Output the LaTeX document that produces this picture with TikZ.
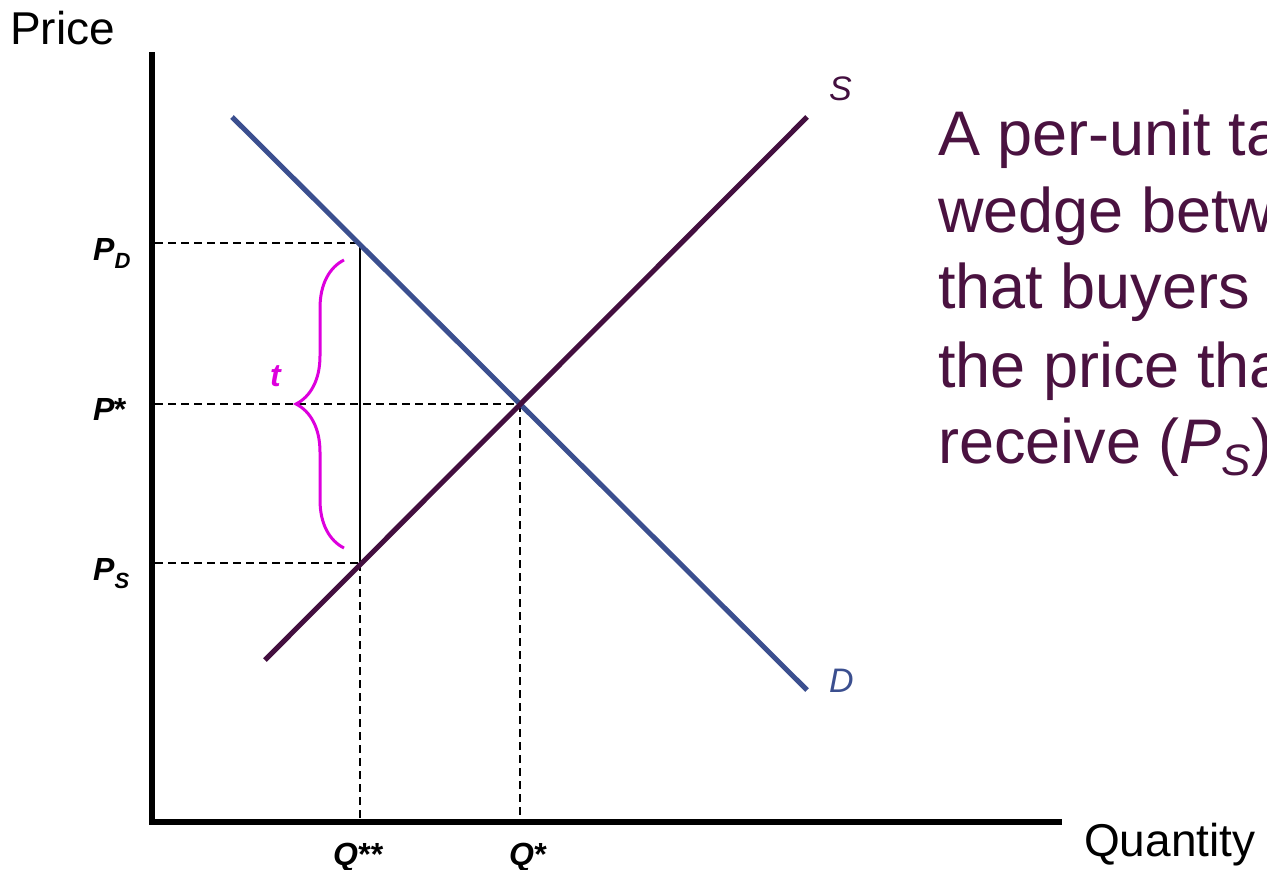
\documentclass[tikz,border=0pt]{standalone}
\usepackage{fontspec}
\setmainfont{Liberation Sans}
\usetikzlibrary{decorations.pathreplacing}
\definecolor{supcol}{HTML}{430F3F}
\definecolor{demcol}{HTML}{3B4F8F}
\definecolor{txtcol}{HTML}{4A1240}
\definecolor{taxcol}{HTML}{DD00DD}
\begin{document}
\begin{tikzpicture}[x=1pt,y=-1pt,
  axis/.style={line width=6pt},
  supply/.style={line width=5pt, supcol},
  demand/.style={line width=5pt, demcol},
  guide/.style={line width=1.8pt, dash pattern=on 8pt off 5pt},
  lbl/.style={inner sep=0pt, anchor=base west, font=\fontsize{32}{34}\selectfont\bfseries\itshape},
  axlbl/.style={inner sep=0pt, anchor=base west, font=\fontsize{46}{50}\selectfont},
  body/.style={inner sep=0pt, anchor=base west, text=txtcol, font=\fontsize{63}{70}\selectfont}]
\useasboundingbox (0,0) rectangle (1267,870);
% coordinates
\coordinate (Ytop) at (152,52);
\coordinate (O) at (152,822);
\coordinate (Xend) at (1062,822);
\coordinate (D1) at (232,117);
\coordinate (D2) at (807,690);
\coordinate (S1) at (265,660);
\coordinate (S2) at (807,117);
\coordinate (E) at (520,404);
\coordinate (PDp) at (360,243);
\coordinate (PSp) at (360,563);
\coordinate (PDy) at (155,243);
\coordinate (PSy) at (155,563);
\coordinate (Py) at (155,404);
\coordinate (Qss) at (360,819);
\coordinate (Qs) at (520,819);
\coordinate (BrTop) at (344,260);
\coordinate (BrBot) at (344,548);
% guides
\draw[guide] (PDy) -- (PDp);
\draw[guide] (PSy) -- (PSp);
\draw[guide] (Py) -- (E);
\draw[guide] (E) -- (Qs);
\draw[guide] (PSp) -- (Qss);
\draw[line width=2pt] (PDp) -- (PSp);
% curves
\draw[demand] (D1) -- (D2);
\draw[supply] (S1) -- (S2);
% axes
\draw[axis] (Ytop) -- (O) -- (Xend);
% brace
\draw[taxcol, line width=3pt, decorate, decoration={brace, amplitude=48pt}] (BrBot) -- (BrTop);
\node[lbl, text=taxcol] (tlab) at (270,386) {t};
% labels
\node[axlbl] (price) at (10,44) {Price};
\node[axlbl] (qty) at (1084,856) {Quantity};
\node[lbl] (pd) at (93,260) {P\raisebox{-8pt}{\fontsize{22}{24}\selectfont D}};
\node[lbl] (pstar) at (93,420) {P\kern-2pt*};
\node[lbl] (ps) at (93,580) {P\raisebox{-8pt}{\fontsize{22}{24}\selectfont S}};
\node[lbl] (qss) at (333,865) {Q\kern-1pt**};
\node[lbl] (qs) at (509,865) {Q\kern-1pt*};
\node[inner sep=0pt, anchor=base west, text=supcol, font=\fontsize{34}{36}\selectfont\itshape] (slab) at (829,100) {S};
\node[inner sep=0pt, anchor=base west, text=demcol, font=\fontsize{34}{36}\selectfont\itshape] (dlab) at (829,692) {D};
% text
\begin{scope}
\clip (0,0) rectangle (1267,870);
\node[body] (l1) at (938,155) {A per-unit tax};
\node[body] (l2) at (938,232) {wedge between};
\node[body] (l3) at (938,308) {that buyers pay};
\node[body] (l4) at (938,387) {the price that};
\node[body] (l5) at (938,463) {receive (\textit{P}\raisebox{-12pt}{\fontsize{44}{46}\selectfont\textit{S}})};
\end{scope}
\end{tikzpicture}
\end{document}
